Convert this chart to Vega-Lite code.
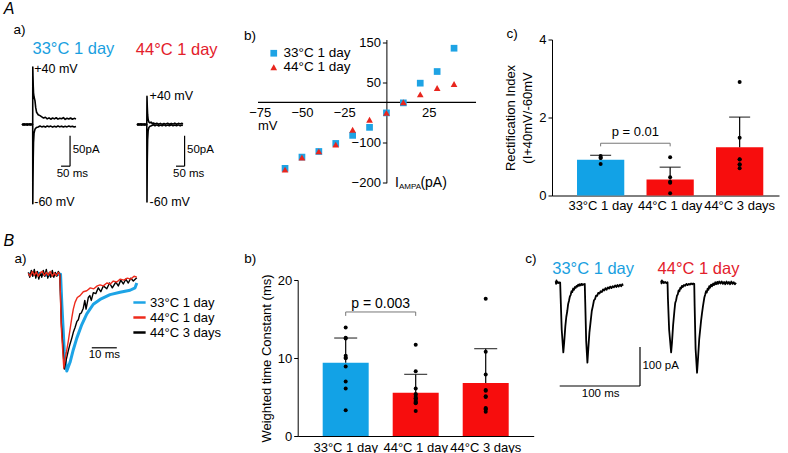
{
 "$schema": "https://vega.github.io/schema/vega-lite/v6.json",
 "padding": {"left": 3, "top": 0.5, "right": 5, "bottom": 5},
 "config": {
  "font": "Liberation Sans",
  "view": {"stroke": null},
  "axis": {"grid": false, "domainColor": "black", "tickColor": "black", "labelColor": "black", "titleColor": "black", "titleFontWeight": "normal", "labelFlush": false},
  "legend": {"labelColor": "black"},
  "line": {"strokeJoin": "round"}
 },
 "datasets": {
  "decay": [
   {"series":"33°C 1 day","t":0,"v":0},{"series":"33°C 1 day","t":4,"v":0.01},{"series":"33°C 1 day","t":8,"v":-0.01},{"series":"33°C 1 day","t":12.9,"v":0},{"series":"33°C 1 day","t":13.4,"v":-0.3},{"series":"33°C 1 day","t":14.4,"v":-0.8},{"series":"33°C 1 day","t":15.4,"v":-1.0},{"series":"33°C 1 day","t":16.7,"v":-0.91},{"series":"33°C 1 day","t":18,"v":-0.78},{"series":"33°C 1 day","t":19.4,"v":-0.66},{"series":"33°C 1 day","t":21.4,"v":-0.52},{"series":"33°C 1 day","t":23.4,"v":-0.41},{"series":"33°C 1 day","t":26,"v":-0.31},{"series":"33°C 1 day","t":28.7,"v":-0.26},{"series":"33°C 1 day","t":32.7,"v":-0.21},{"series":"33°C 1 day","t":36.7,"v":-0.185},{"series":"33°C 1 day","t":40.7,"v":-0.165},{"series":"33°C 1 day","t":42.7,"v":-0.14},{"series":"33°C 1 day","t":43.4,"v":-0.09},
   {"series":"44°C 3 days","t":0,"v":0.02},{"series":"44°C 3 days","t":0.6,"v":-0.03},{"series":"44°C 3 days","t":1.2,"v":0.04},{"series":"44°C 3 days","t":1.8,"v":-0.02},{"series":"44°C 3 days","t":2.4,"v":0.05},{"series":"44°C 3 days","t":3,"v":-0.04},{"series":"44°C 3 days","t":3.6,"v":0.03},{"series":"44°C 3 days","t":4.2,"v":-0.05},{"series":"44°C 3 days","t":4.8,"v":0.02},{"series":"44°C 3 days","t":5.4,"v":-0.03},{"series":"44°C 3 days","t":6,"v":0.04},{"series":"44°C 3 days","t":6.6,"v":-0.02},{"series":"44°C 3 days","t":7.2,"v":0.05},{"series":"44°C 3 days","t":7.8,"v":-0.04},{"series":"44°C 3 days","t":8.4,"v":0.02},{"series":"44°C 3 days","t":9,"v":-0.03},{"series":"44°C 3 days","t":9.6,"v":0.04},{"series":"44°C 3 days","t":10.2,"v":-0.03},{"series":"44°C 3 days","t":10.8,"v":0.02},{"series":"44°C 3 days","t":11.4,"v":-0.02},{"series":"44°C 3 days","t":12,"v":0.03},{"series":"44°C 3 days","t":12.6,"v":0},{"series":"44°C 3 days","t":13.2,"v":-0.5},{"series":"44°C 3 days","t":14.4,"v":-0.98},{"series":"44°C 3 days","t":15.2,"v":-0.88},{"series":"44°C 3 days","t":16,"v":-0.79},{"series":"44°C 3 days","t":16.7,"v":-0.72},{"series":"44°C 3 days","t":17.4,"v":-0.66},{"series":"44°C 3 days","t":18,"v":-0.6},{"series":"44°C 3 days","t":18.7,"v":-0.55},{"series":"44°C 3 days","t":19.4,"v":-0.49},{"series":"44°C 3 days","t":20,"v":-0.47},{"series":"44°C 3 days","t":20.6,"v":-0.41},{"series":"44°C 3 days","t":21.2,"v":-0.4},{"series":"44°C 3 days","t":22,"v":-0.35},{"series":"44°C 3 days","t":22.6,"v":-0.27},{"series":"44°C 3 days","t":23.1,"v":-0.36},{"series":"44°C 3 days","t":24,"v":-0.24},{"series":"44°C 3 days","t":24.6,"v":-0.22},{"series":"44°C 3 days","t":25.2,"v":-0.27},{"series":"44°C 3 days","t":26,"v":-0.19},{"series":"44°C 3 days","t":27,"v":-0.2},{"series":"44°C 3 days","t":28,"v":-0.14},{"series":"44°C 3 days","t":29,"v":-0.18},{"series":"44°C 3 days","t":30,"v":-0.12},{"series":"44°C 3 days","t":31.4,"v":-0.15},{"series":"44°C 3 days","t":32.5,"v":-0.09},{"series":"44°C 3 days","t":33.6,"v":-0.14},{"series":"44°C 3 days","t":35,"v":-0.08},{"series":"44°C 3 days","t":36,"v":-0.12},{"series":"44°C 3 days","t":37,"v":-0.06},{"series":"44°C 3 days","t":38,"v":-0.1},{"series":"44°C 3 days","t":39,"v":-0.05},{"series":"44°C 3 days","t":40,"v":-0.09},{"series":"44°C 3 days","t":41,"v":-0.04},{"series":"44°C 3 days","t":42,"v":-0.07},{"series":"44°C 3 days","t":43.4,"v":-0.035},
   {"series":"44°C 1 day","t":0,"v":0.01},{"series":"44°C 1 day","t":0.8,"v":-0.02},{"series":"44°C 1 day","t":1.6,"v":0.03},{"series":"44°C 1 day","t":2.4,"v":-0.01},{"series":"44°C 1 day","t":3.2,"v":0.025},{"series":"44°C 1 day","t":4,"v":-0.02},{"series":"44°C 1 day","t":4.8,"v":0.015},{"series":"44°C 1 day","t":5.6,"v":0.03},{"series":"44°C 1 day","t":6.4,"v":-0.015},{"series":"44°C 1 day","t":7.2,"v":0.02},{"series":"44°C 1 day","t":8,"v":-0.01},{"series":"44°C 1 day","t":8.8,"v":0.03},{"series":"44°C 1 day","t":9.6,"v":-0.02},{"series":"44°C 1 day","t":10.4,"v":0.015},{"series":"44°C 1 day","t":11.2,"v":-0.015},{"series":"44°C 1 day","t":12,"v":0.02},{"series":"44°C 1 day","t":12.6,"v":0},{"series":"44°C 1 day","t":13.2,"v":-0.55},{"series":"44°C 1 day","t":14.2,"v":-0.97},{"series":"44°C 1 day","t":15,"v":-0.84},{"series":"44°C 1 day","t":16,"v":-0.69},{"series":"44°C 1 day","t":16.7,"v":-0.57},{"series":"44°C 1 day","t":17.4,"v":-0.45},{"series":"44°C 1 day","t":18,"v":-0.36},{"series":"44°C 1 day","t":18.7,"v":-0.29},{"series":"44°C 1 day","t":19.6,"v":-0.24},{"series":"44°C 1 day","t":20.7,"v":-0.22},{"series":"44°C 1 day","t":22,"v":-0.18},{"series":"44°C 1 day","t":23.4,"v":-0.17},{"series":"44°C 1 day","t":24.8,"v":-0.14},{"series":"44°C 1 day","t":26.2,"v":-0.15},{"series":"44°C 1 day","t":27.6,"v":-0.12},{"series":"44°C 1 day","t":28.7,"v":-0.11},{"series":"44°C 1 day","t":30,"v":-0.12},{"series":"44°C 1 day","t":31.4,"v":-0.09},{"series":"44°C 1 day","t":32.8,"v":-0.1},{"series":"44°C 1 day","t":34,"v":-0.07},{"series":"44°C 1 day","t":35.4,"v":-0.08},{"series":"44°C 1 day","t":36.8,"v":-0.05},{"series":"44°C 1 day","t":38.2,"v":-0.06},{"series":"44°C 1 day","t":39.6,"v":-0.04},{"series":"44°C 1 day","t":41,"v":-0.05},{"series":"44°C 1 day","t":42.3,"v":-0.02},{"series":"44°C 1 day","t":43.4,"v":-0.03}
  ]
 },
 "resolve": {"scale": {"color": "independent", "shape": "independent"}, "legend": {"color": "independent", "shape": "independent"}},
 "spacing": 19.5,
 "vconcat": [
  {
   "bounds": "flush",
   "spacing": 60,
   "resolve": {"scale": {"color": "independent", "shape": "independent"}, "legend": {"color": "independent", "shape": "independent"}},
   "hconcat": [
    {
     "width": 54.7, "height": 167.3,
     "layer": [
      {
       "data": {"values": [
        {"sweep":"+40","t":0,"i":0.5},{"sweep":"+40","t":6,"i":-1},{"sweep":"+40","t":12,"i":1.2},{"sweep":"+40","t":18,"i":-0.6},{"sweep":"+40","t":24,"i":0.9},{"sweep":"+40","t":30,"i":-1.2},{"sweep":"+40","t":36,"i":0.6},{"sweep":"+40","t":42,"i":-0.8},{"sweep":"+40","t":48,"i":1.1},{"sweep":"+40","t":54,"i":-0.5},{"sweep":"+40","t":59.5,"i":0.3},
        {"sweep":"+40","t":60,"i":94},{"sweep":"+40","t":61,"i":80},{"sweep":"+40","t":62.5,"i":63},{"sweep":"+40","t":64,"i":52},{"sweep":"+40","t":67,"i":45},{"sweep":"+40","t":72,"i":39},{"sweep":"+40","t":76,"i":28},{"sweep":"+40","t":81,"i":20},{"sweep":"+40","t":90,"i":16},{"sweep":"+40","t":100,"i":14.5},{"sweep":"+40","t":110,"i":12.5},{"sweep":"+40","t":120,"i":10.5},{"sweep":"+40","t":130,"i":11.8},{"sweep":"+40","t":140,"i":9.2},{"sweep":"+40","t":150,"i":10.8},{"sweep":"+40","t":160,"i":8.6},{"sweep":"+40","t":170,"i":10.6},{"sweep":"+40","t":180,"i":9.1},{"sweep":"+40","t":190,"i":11},{"sweep":"+40","t":200,"i":8.7},{"sweep":"+40","t":210,"i":10.2},{"sweep":"+40","t":220,"i":9.4},{"sweep":"+40","t":230,"i":11.2},{"sweep":"+40","t":240,"i":8.3},{"sweep":"+40","t":250,"i":10.1},{"sweep":"+40","t":260,"i":8.9},{"sweep":"+40","t":270,"i":10.6},{"sweep":"+40","t":280,"i":8.6},{"sweep":"+40","t":290,"i":10},{"sweep":"+40","t":300,"i":8.9},
        {"sweep":"-60","t":0,"i":-0.6},{"sweep":"-60","t":6,"i":1},{"sweep":"-60","t":12,"i":-1.1},{"sweep":"-60","t":18,"i":0.7},{"sweep":"-60","t":24,"i":-0.9},{"sweep":"-60","t":30,"i":1.1},{"sweep":"-60","t":36,"i":-0.5},{"sweep":"-60","t":42,"i":0.9},{"sweep":"-60","t":48,"i":-1},{"sweep":"-60","t":54,"i":0.6},{"sweep":"-60","t":59.5,"i":-0.2},
        {"sweep":"-60","t":60,"i":-130},{"sweep":"-60","t":61,"i":-95},{"sweep":"-60","t":62.5,"i":-55},{"sweep":"-60","t":64,"i":-30},{"sweep":"-60","t":67,"i":-14},{"sweep":"-60","t":72,"i":-8},{"sweep":"-60","t":80,"i":-5},{"sweep":"-60","t":90,"i":-4.2},{"sweep":"-60","t":100,"i":-2.6},{"sweep":"-60","t":110,"i":-4},{"sweep":"-60","t":120,"i":-2.9},{"sweep":"-60","t":130,"i":-4.3},{"sweep":"-60","t":140,"i":-2.5},{"sweep":"-60","t":150,"i":-3.8},{"sweep":"-60","t":160,"i":-2.7},{"sweep":"-60","t":170,"i":-4.4},{"sweep":"-60","t":180,"i":-3},{"sweep":"-60","t":190,"i":-4.1},{"sweep":"-60","t":200,"i":-2.4},{"sweep":"-60","t":210,"i":-3.9},{"sweep":"-60","t":220,"i":-2.8},{"sweep":"-60","t":230,"i":-4.2},{"sweep":"-60","t":240,"i":-3.1},{"sweep":"-60","t":250,"i":-4},{"sweep":"-60","t":260,"i":-2.6},{"sweep":"-60","t":270,"i":-3.8},{"sweep":"-60","t":280,"i":-2.9},{"sweep":"-60","t":290,"i":-4.1},{"sweep":"-60","t":300,"i":-3.2}
       ]},
       "mark": {"type": "line", "color": "black", "strokeWidth": 1.6},
       "encoding": {
        "x": {"field": "t", "type": "quantitative", "scale": {"domain": [0, 303.9], "nice": false, "zero": false},
              "axis": {"orient": "top", "domain": false, "ticks": false, "labels": false, "title": "33°C 1 day", "titleColor": "#1a9fe0", "titleFontSize": 16.5, "titleAngle": 0, "titleAlign": "left", "titleBaseline": "middle", "titleX": 10, "titleY": 9}},
        "y": {"field": "i", "type": "quantitative", "scale": {"domain": [-135, 139.3], "nice": false, "zero": false},
              "axis": {"domain": false, "ticks": false, "labels": false, "title": "a)", "titleFontSize": 13.5, "titleAngle": 0, "titleAlign": "left", "titleBaseline": "middle", "titleX": -9, "titleY": -10}},
        "detail": {"field": "sweep", "type": "nominal"}
       }
      },
      {
       "data": {"values": [{"t":267,"t2":267,"i":-18.5,"i2":-68.4},{"t":217,"t2":267,"i":-68.4,"i2":-68.4}]},
       "mark": {"type": "rule", "color": "black", "strokeWidth": 1.2},
       "encoding": {"x": {"field": "t", "type": "quantitative"}, "x2": {"field": "t2"}, "y": {"field": "i", "type": "quantitative"}, "y2": {"field": "i2"}}
      },
      {
       "data": {"values": [{"t":68,"i":91,"label":"+40 mV"},{"t":68,"i":-127,"label":"-60 mV"}]},
       "mark": {"type": "text", "align": "left", "baseline": "middle", "fontSize": 12.5},
       "encoding": {"x": {"field": "t", "type": "quantitative"}, "y": {"field": "i", "type": "quantitative"}, "text": {"field": "label"}}
      },
      {
       "data": {"values": [{"t":281.7,"i":-42.6,"label":"50pA"},{"t":192.6,"i":-80.8,"label":"50 ms"}]},
       "mark": {"type": "text", "align": "left", "baseline": "middle", "fontSize": 11.5},
       "encoding": {"x": {"field": "t", "type": "quantitative"}, "y": {"field": "i", "type": "quantitative"}, "text": {"field": "label"}}
      }
     ]
    },
    {
     "width": 60.9, "height": 167.3,
     "layer": [
      {
       "data": {"values": [
        {"sweep":"+40","t":0,"i":0.4},{"sweep":"+40","t":5,"i":-1},{"sweep":"+40","t":10,"i":1.1},{"sweep":"+40","t":15,"i":-0.7},{"sweep":"+40","t":20,"i":0.9},{"sweep":"+40","t":25,"i":-1.1},{"sweep":"+40","t":30,"i":0.8},{"sweep":"+40","t":35,"i":-0.6},{"sweep":"+40","t":40,"i":1},{"sweep":"+40","t":45,"i":-0.9},{"sweep":"+40","t":50,"i":0.7},{"sweep":"+40","t":54.5,"i":0.1},
        {"sweep":"+40","t":55.5,"i":46},{"sweep":"+40","t":57,"i":30},{"sweep":"+40","t":59,"i":16},{"sweep":"+40","t":62,"i":8},{"sweep":"+40","t":66,"i":4},{"sweep":"+40","t":72,"i":2.5},{"sweep":"+40","t":78,"i":4},{"sweep":"+40","t":84,"i":1.5},{"sweep":"+40","t":92,"i":2.4},{"sweep":"+40","t":100,"i":0.6},{"sweep":"+40","t":110,"i":1.9},{"sweep":"+40","t":120,"i":0.4},{"sweep":"+40","t":130,"i":1.8},{"sweep":"+40","t":140,"i":0.2},{"sweep":"+40","t":150,"i":1.6},{"sweep":"+40","t":160,"i":0.5},{"sweep":"+40","t":170,"i":2},{"sweep":"+40","t":180,"i":0.3},{"sweep":"+40","t":190,"i":1.7},{"sweep":"+40","t":200,"i":0.6},{"sweep":"+40","t":210,"i":2.1},{"sweep":"+40","t":220,"i":0.4},{"sweep":"+40","t":230,"i":1.8},{"sweep":"+40","t":240,"i":0.7},{"sweep":"+40","t":250,"i":1.9},{"sweep":"+40","t":255,"i":0.8},
        {"sweep":"-60","t":0,"i":-0.5},{"sweep":"-60","t":5,"i":0.9},{"sweep":"-60","t":10,"i":-1},{"sweep":"-60","t":15,"i":0.8},{"sweep":"-60","t":20,"i":-0.8},{"sweep":"-60","t":25,"i":1},{"sweep":"-60","t":30,"i":-0.7},{"sweep":"-60","t":35,"i":0.7},{"sweep":"-60","t":40,"i":-1},{"sweep":"-60","t":45,"i":0.8},{"sweep":"-60","t":50,"i":-0.6},{"sweep":"-60","t":54.5,"i":-0.1},
        {"sweep":"-60","t":55.5,"i":-127},{"sweep":"-60","t":57,"i":-60},{"sweep":"-60","t":59,"i":-25},{"sweep":"-60","t":62,"i":-10},{"sweep":"-60","t":66,"i":-5},{"sweep":"-60","t":72,"i":-3},{"sweep":"-60","t":80,"i":-2},{"sweep":"-60","t":90,"i":-0.5},{"sweep":"-60","t":100,"i":-2.2},{"sweep":"-60","t":110,"i":-0.7},{"sweep":"-60","t":120,"i":-2.4},{"sweep":"-60","t":130,"i":-0.8},{"sweep":"-60","t":140,"i":-2.1},{"sweep":"-60","t":150,"i":-0.6},{"sweep":"-60","t":160,"i":-2.3},{"sweep":"-60","t":170,"i":-0.9},{"sweep":"-60","t":180,"i":-2},{"sweep":"-60","t":190,"i":-0.6},{"sweep":"-60","t":200,"i":-2.2},{"sweep":"-60","t":210,"i":-0.8},{"sweep":"-60","t":220,"i":-2.1},{"sweep":"-60","t":230,"i":-0.7},{"sweep":"-60","t":240,"i":-2.3},{"sweep":"-60","t":250,"i":-1},{"sweep":"-60","t":255,"i":-1.8}
       ]},
       "mark": {"type": "line", "color": "black", "strokeWidth": 1.6},
       "encoding": {
        "x": {"field": "t", "type": "quantitative", "scale": {"domain": [0, 338.3], "nice": false, "zero": false},
              "axis": {"orient": "top", "domain": false, "ticks": false, "labels": false, "title": "44°C 1 day", "titleColor": "#e3202b", "titleFontSize": 16.5, "titleAngle": 0, "titleAlign": "left", "titleBaseline": "middle", "titleX": -1.7, "titleY": 10}},
        "y": {"field": "i", "type": "quantitative", "scale": {"domain": [-135, 139.3], "nice": false, "zero": false},
              "axis": {"domain": false, "ticks": false, "labels": false, "title": "A", "titleFontSize": 16, "titleFontStyle": "italic", "titleAngle": 0, "titleAlign": "left", "titleBaseline": "middle", "titleX": -133.7, "titleY": -31}},
        "detail": {"field": "sweep", "type": "nominal"}
       }
      },
      {
       "data": {"values": [{"t":264.4,"t2":264.4,"i":-18.5,"i2":-68.4},{"t":216.7,"t2":264.4,"i":-68.4,"i2":-68.4}]},
       "mark": {"type": "rule", "color": "black", "strokeWidth": 1.2},
       "encoding": {"x": {"field": "t", "type": "quantitative"}, "x2": {"field": "t2"}, "y": {"field": "i", "type": "quantitative"}, "y2": {"field": "i2"}}
      },
      {
       "data": {"values": [{"t":70,"i":45.9,"label":"+40 mV"},{"t":70,"i":-127,"label":"-60 mV"}]},
       "mark": {"type": "text", "align": "left", "baseline": "middle", "fontSize": 12.5},
       "encoding": {"x": {"field": "t", "type": "quantitative"}, "y": {"field": "i", "type": "quantitative"}, "text": {"field": "label"}}
      },
      {
       "data": {"values": [{"t":277.8,"i":-42.6,"label":"50pA"},{"t":200,"i":-80.8,"label":"50 ms"}]},
       "mark": {"type": "text", "align": "left", "baseline": "middle", "fontSize": 11.5},
       "encoding": {"x": {"field": "t", "type": "quantitative"}, "y": {"field": "i", "type": "quantitative"}, "text": {"field": "label"}}
      }
     ]
    },
    {
     "width": 233.4, "height": 143.3,
     "layer": [
      {
       "data": {"values": [{}]},
       "mark": {"type": "rule", "color": "black", "strokeWidth": 1.2},
       "encoding": {"x": {"datum": -76}, "x2": {"datum": 53}, "y": {"datum": 0}}
      },
      {
       "data": {"values": [
        {"grp":"33°C 1 day","mv":-60,"pa":-164},{"grp":"33°C 1 day","mv":-50,"pa":-136},{"grp":"33°C 1 day","mv":-40,"pa":-122},{"grp":"33°C 1 day","mv":-30,"pa":-102},{"grp":"33°C 1 day","mv":-20,"pa":-82},{"grp":"33°C 1 day","mv":-10,"pa":-62},{"grp":"33°C 1 day","mv":0,"pa":-26},{"grp":"33°C 1 day","mv":10,"pa":-1},{"grp":"33°C 1 day","mv":20,"pa":48},{"grp":"33°C 1 day","mv":30,"pa":77},{"grp":"33°C 1 day","mv":40,"pa":135},
        {"grp":"44°C 1 day","mv":-60,"pa":-167},{"grp":"44°C 1 day","mv":-50,"pa":-137},{"grp":"44°C 1 day","mv":-40,"pa":-122},{"grp":"44°C 1 day","mv":-30,"pa":-105},{"grp":"44°C 1 day","mv":-20,"pa":-68},{"grp":"44°C 1 day","mv":-10,"pa":-43},{"grp":"44°C 1 day","mv":0,"pa":-26},{"grp":"44°C 1 day","mv":10,"pa":0.5},{"grp":"44°C 1 day","mv":20,"pa":20},{"grp":"44°C 1 day","mv":30,"pa":36},{"grp":"44°C 1 day","mv":40,"pa":46}
       ]},
       "mark": {"type": "point", "filled": true, "size": 45, "opacity": 1},
       "encoding": {
        "x": {"field": "mv", "type": "quantitative", "scale": {"domain": [-76, 62.1], "nice": false, "zero": false},
              "axis": {"orient": "bottom", "offset": -80.4, "domain": false, "ticks": false, "tickSize": 0, "values": [-75, -50, -25, 25], "labelFontSize": 13, "labelPadding": 4, "labelOverlap": false, "title": "mV", "titleFontSize": 13, "titleAngle": 0, "titleAlign": "left", "titleBaseline": "middle", "titleX": -0.6, "titleY": 23}},
        "y": {"field": "pa", "type": "quantitative", "scale": {"domain": [-200, 156.7], "nice": false, "zero": false},
              "axis": {"offset": -128.4, "values": [-200, -150, -100, -50, 50, 100, 150], "tickSize": 4, "labelPadding": 2, "labelFontSize": 13, "title": "b)", "titleFontSize": 13.5, "titleAngle": 0, "titleAlign": "left", "titleBaseline": "middle", "titleX": -143, "titleY": -4}},
        "color": {"field": "grp", "type": "nominal", "scale": {"domain": ["33°C 1 day", "44°C 1 day"], "range": ["#1ea3e4", "#e8261e"]},
                  "legend": {"orient": "none", "legendX": 9, "legendY": 7, "title": null, "labelFontSize": 13.5, "symbolSize": 45, "rowPadding": -4, "padding": 0, "labelOffset": 3}},
        "shape": {"field": "grp", "type": "nominal", "scale": {"domain": ["33°C 1 day", "44°C 1 day"], "range": ["square", "triangle-up"]}}
       }
      },
      {
       "data": {"values": [{}]},
       "mark": {"type": "text", "align": "left", "baseline": "middle", "fontSize": 14},
       "encoding": {"x": {"datum": 5}, "y": {"datum": -200}, "text": {"value": "I"}}
      },
      {
       "data": {"values": [{}]},
       "mark": {"type": "text", "align": "left", "baseline": "middle", "fontSize": 8, "dx": 4, "dy": 4},
       "encoding": {"x": {"datum": 5}, "y": {"datum": -200}, "text": {"value": "AMPA"}}
      },
      {
       "data": {"values": [{}]},
       "mark": {"type": "text", "align": "left", "baseline": "middle", "fontSize": 14, "dx": 25.5},
       "encoding": {"x": {"datum": 5}, "y": {"datum": -200}, "text": {"value": "(pA)"}}
      }
     ]
    },
    {
     "width": 227, "height": 156,
     "layer": [
      {
       "data": {"values": [
        {"group":"33°C 1 day","mean":0.915,"upper":1.03},
        {"group":"44°C 1 day","mean":0.41,"upper":0.726},
        {"group":"44°C 3 days","mean":1.24,"upper":2.01}
       ]},
       "mark": {"type": "bar"},
       "encoding": {
        "x": {"field": "group", "type": "nominal", "sort": null, "scale": {"type": "band", "paddingInner": 0.32, "paddingOuter": 0.293, "align": 0.614},
              "axis": {"labelAngle": 0, "labelFontSize": 13, "ticks": false, "labelPadding": 4, "labelOverlap": false, "labelBound": false, "title": "c)", "titleFontSize": 13.5, "titleAngle": 0, "titleAlign": "left", "titleBaseline": "middle", "titleX": -46, "titleY": -162}},
        "y": {"field": "mean", "type": "quantitative", "scale": {"domain": [0, 4], "nice": false},
              "axis": {"values": [0, 1, 2, 3, 4], "tickSize": 4, "labelPadding": 2, "labelFontSize": 13, "title": ["Rectification Index", "(I+40mV/-60mV"], "titleFontSize": 13, "titleLineHeight": 17, "titlePadding": 4}},
        "color": {"field": "group", "type": "nominal", "scale": {"domain": ["33°C 1 day", "44°C 1 day", "44°C 3 days"], "range": ["#12a2e6", "#f70d0d", "#f70d0d"]}, "legend": null}
       }
      },
      {
       "data": {"values": [
        {"group":"33°C 1 day","mean":0.915,"upper":1.03},
        {"group":"44°C 1 day","mean":0.41,"upper":0.726},
        {"group":"44°C 3 days","mean":1.24,"upper":2.01}
       ]},
       "mark": {"type": "rule", "color": "black", "strokeWidth": 1.2},
       "encoding": {"x": {"field": "group", "type": "nominal", "sort": null}, "y": {"field": "mean", "type": "quantitative"}, "y2": {"field": "upper"}}
      },
      {
       "data": {"values": [
        {"group":"33°C 1 day","mean":0.915,"upper":1.03},
        {"group":"44°C 1 day","mean":0.41,"upper":0.726},
        {"group":"44°C 3 days","mean":1.24,"upper":2.01}
       ]},
       "mark": {"type": "tick", "color": "black", "thickness": 1.3, "size": 21},
       "encoding": {"x": {"field": "group", "type": "nominal", "sort": null}, "y": {"field": "upper", "type": "quantitative"}}
      },
      {
       "data": {"values": [
        {"group":"33°C 1 day","ri":1.01},{"group":"33°C 1 day","ri":0.96},{"group":"33°C 1 day","ri":0.81},{"group":"33°C 1 day","ri":0.97},
        {"group":"44°C 1 day","ri":0.98},{"group":"44°C 1 day","ri":0.47},{"group":"44°C 1 day","ri":0.33},{"group":"44°C 1 day","ri":0.35},{"group":"44°C 1 day","ri":0.06},
        {"group":"44°C 3 days","ri":2.91},{"group":"44°C 3 days","ri":1.48},{"group":"44°C 3 days","ri":0.93},{"group":"44°C 3 days","ri":0.92},{"group":"44°C 3 days","ri":0.8},{"group":"44°C 3 days","ri":0.79},{"group":"44°C 3 days","ri":0.7}
       ]},
       "mark": {"type": "circle", "color": "black", "size": 16, "opacity": 1},
       "encoding": {"x": {"field": "group", "type": "nominal", "sort": null}, "y": {"field": "ri", "type": "quantitative"}}
      },
      {
       "data": {"values": [
        {"group":"33°C 1 day","yy":1.26,"o":0},{"group":"33°C 1 day","yy":1.34,"o":1},{"group":"44°C 1 day","yy":1.34,"o":2},{"group":"44°C 1 day","yy":1.26,"o":3}
       ]},
       "mark": {"type": "line", "color": "#777777", "strokeWidth": 1},
       "encoding": {"x": {"field": "group", "type": "nominal", "sort": null}, "y": {"field": "yy", "type": "quantitative"}, "order": {"field": "o", "type": "quantitative"}}
      },
      {
       "data": {"values": [{"group":"44°C 1 day","yy":1.62,"label":"p = 0.01"}]},
       "mark": {"type": "text", "fontSize": 13, "baseline": "middle", "dx": -34.75},
       "encoding": {"x": {"field": "group", "type": "nominal", "sort": null}, "y": {"field": "yy", "type": "quantitative"}, "text": {"field": "label"}}
      }
     ]
    }
   ]
  },
  {
   "bounds": "flush",
   "spacing": 20.7,
   "resolve": {"scale": {"color": "independent", "shape": "independent"}, "legend": {"color": "independent", "shape": "independent"}},
   "hconcat": [
    {
     "width": 254.3, "height": 91,
     "layer": [
      {
       "data": {"name": "decay"},
       "transform": [{"filter": "datum.series === '33°C 1 day'"}],
       "mark": {"type": "line", "strokeWidth": 3},
       "encoding": {
        "x": {"field": "t", "type": "quantitative", "scale": {"domain": [-2.52, 99.2], "nice": false, "zero": false},
              "axis": {"orient": "top", "domain": false, "ticks": false, "labels": false, "title": "B", "titleFontSize": 16, "titleFontStyle": "italic", "titleAngle": 0, "titleAlign": "left", "titleBaseline": "middle", "titleX": -19, "titleY": -40}},
        "y": {"field": "v", "type": "quantitative", "scale": {"domain": [-1.0, -0.0589], "nice": false, "zero": false},
              "axis": {"domain": false, "ticks": false, "labels": false, "title": "a)", "titleFontSize": 13.5, "titleAngle": 0, "titleAlign": "left", "titleBaseline": "middle", "titleX": -8, "titleY": -22}},
        "color": {"field": "series", "type": "nominal", "scale": {"domain": ["33°C 1 day", "44°C 1 day", "44°C 3 days"], "range": ["#1da4e6", "#ee2b1c", "black"]},
                  "legend": {"orient": "none", "legendX": 110, "legendY": 15, "title": null, "symbolType": "stroke", "symbolStrokeWidth": 2.5, "symbolSize": 150, "labelFontSize": 13, "rowPadding": -2.5, "labelOffset": 3, "padding": 0}}
       }
      },
      {
       "data": {"name": "decay"},
       "transform": [{"filter": "datum.series !== '33°C 1 day'"}],
       "mark": {"type": "line", "strokeWidth": 1.4},
       "encoding": {
        "x": {"field": "t", "type": "quantitative"},
        "y": {"field": "v", "type": "quantitative"},
        "color": {"field": "series", "type": "nominal"}
       }
      },
      {
       "data": {"values": [{"t":25.4,"t2":35.4,"v":-0.76}]},
       "mark": {"type": "rule", "color": "black", "strokeWidth": 1.2},
       "encoding": {"x": {"field": "t", "type": "quantitative"}, "x2": {"field": "t2"}, "y": {"field": "v", "type": "quantitative"}}
      },
      {
       "data": {"values": [{"t":30.4,"v":-0.835,"label":"10 ms"}]},
       "mark": {"type": "text", "baseline": "middle", "fontSize": 11.5},
       "encoding": {"x": {"field": "t", "type": "quantitative"}, "y": {"field": "v", "type": "quantitative"}, "text": {"field": "label"}}
      }
     ]
    },
    {
     "width": 236, "height": 156,
     "layer": [
      {
       "data": {"values": [
        {"group":"33°C 1 day","mean":9.4,"upper":12.56},
        {"group":"44°C 1 day","mean":5.56,"upper":7.9},
        {"group":"44°C 3 days","mean":6.8,"upper":11.2}
       ]},
       "mark": {"type": "bar"},
       "encoding": {
        "x": {"field": "group", "type": "nominal", "sort": null, "scale": {"type": "band", "paddingInner": 0.343, "paddingOuter": 0.357},
              "axis": {"labelAngle": 0, "labelFontSize": 13, "ticks": false, "labelPadding": 5, "labelOverlap": false, "labelBound": false, "title": "b)", "titleFontSize": 13.5, "titleAngle": 0, "titleAlign": "left", "titleBaseline": "middle", "titleX": -54, "titleY": -178}},
        "y": {"field": "mean", "type": "quantitative", "scale": {"domain": [0, 20], "nice": false},
              "axis": {"values": [0, 5, 10, 15, 20], "tickSize": 4, "labelPadding": 2, "labelFontSize": 13, "title": "Weighted time Constant (ms)", "titleFontSize": 13, "titlePadding": 4}},
        "color": {"field": "group", "type": "nominal", "scale": {"domain": ["33°C 1 day", "44°C 1 day", "44°C 3 days"], "range": ["#12a2e6", "#f70d0d", "#f70d0d"]}, "legend": null}
       }
      },
      {
       "data": {"values": [
        {"group":"33°C 1 day","mean":9.4,"upper":12.56},
        {"group":"44°C 1 day","mean":5.56,"upper":7.9},
        {"group":"44°C 3 days","mean":6.8,"upper":11.2}
       ]},
       "mark": {"type": "rule", "color": "black", "strokeWidth": 1.2},
       "encoding": {"x": {"field": "group", "type": "nominal", "sort": null}, "y": {"field": "mean", "type": "quantitative"}, "y2": {"field": "upper"}}
      },
      {
       "data": {"values": [
        {"group":"33°C 1 day","mean":9.4,"upper":12.56},
        {"group":"44°C 1 day","mean":5.56,"upper":7.9},
        {"group":"44°C 3 days","mean":6.8,"upper":11.2}
       ]},
       "mark": {"type": "tick", "color": "black", "thickness": 1.3, "size": 23},
       "encoding": {"x": {"field": "group", "type": "nominal", "sort": null}, "y": {"field": "upper", "type": "quantitative"}}
      },
      {
       "data": {"values": [
        {"group":"33°C 1 day","tau":13.9},{"group":"33°C 1 day","tau":12.5},{"group":"33°C 1 day","tau":12.6},{"group":"33°C 1 day","tau":10.0},{"group":"33°C 1 day","tau":10.3},{"group":"33°C 1 day","tau":10.0},{"group":"33°C 1 day","tau":8.9},{"group":"33°C 1 day","tau":7.0},{"group":"33°C 1 day","tau":6.1},{"group":"33°C 1 day","tau":3.3},
        {"group":"44°C 1 day","tau":11.7},{"group":"44°C 1 day","tau":8.3},{"group":"44°C 1 day","tau":6.1},{"group":"44°C 1 day","tau":5.4},{"group":"44°C 1 day","tau":5.3},{"group":"44°C 1 day","tau":5.0},{"group":"44°C 1 day","tau":4.8},{"group":"44°C 1 day","tau":4.8},{"group":"44°C 1 day","tau":4.6},{"group":"44°C 1 day","tau":4.4},{"group":"44°C 1 day","tau":4.3},{"group":"44°C 1 day","tau":4.2},{"group":"44°C 1 day","tau":3.2},
        {"group":"44°C 3 days","tau":17.6},{"group":"44°C 3 days","tau":10.8},{"group":"44°C 3 days","tau":7.9},{"group":"44°C 3 days","tau":5.9},{"group":"44°C 3 days","tau":5.8},{"group":"44°C 3 days","tau":5.1},{"group":"44°C 3 days","tau":5.0},{"group":"44°C 3 days","tau":3.6},{"group":"44°C 3 days","tau":3.5},{"group":"44°C 3 days","tau":3.4},{"group":"44°C 3 days","tau":3.1}
       ]},
       "mark": {"type": "circle", "color": "black", "size": 16, "opacity": 1},
       "encoding": {"x": {"field": "group", "type": "nominal", "sort": null}, "y": {"field": "tau", "type": "quantitative"}}
      },
      {
       "data": {"values": [
        {"group":"33°C 1 day","yy":15.4,"o":0},{"group":"33°C 1 day","yy":15.9,"o":1},{"group":"44°C 1 day","yy":15.9,"o":2},{"group":"44°C 1 day","yy":15.4,"o":3}
       ]},
       "mark": {"type": "line", "color": "#777777", "strokeWidth": 1},
       "encoding": {"x": {"field": "group", "type": "nominal", "sort": null}, "y": {"field": "yy", "type": "quantitative"}, "order": {"field": "o", "type": "quantitative"}}
      },
      {
       "data": {"values": [{"group":"44°C 1 day","yy":16.9,"label":"p = 0.003"}]},
       "mark": {"type": "text", "fontSize": 14, "baseline": "middle", "dx": -35},
       "encoding": {"x": {"field": "group", "type": "nominal", "sort": null}, "y": {"field": "yy", "type": "quantitative"}, "text": {"field": "label"}}
      }
     ]
    },
    {
     "width": 85.6, "height": 106,
     "layer": [
      {
       "data": {"values": [
        {"t":0,"i":4},{"t":0.5,"i":-3},{"t":1,"i":6},{"t":1.6,"i":-1},{"t":2.5,"i":2},{"t":3.5,"i":-1},{"t":4.5,"i":1},{"t":5.6,"i":0},{"t":6.2,"i":-40},{"t":7.5,"i":-120},{"t":9.5,"i":-179},{"t":10.5,"i":-155},{"t":12,"i":-112},{"t":13.2,"i":-88},{"t":14.5,"i":-72},{"t":15.5,"i":-55},{"t":16.5,"i":-47},{"t":17.6,"i":-36},{"t":18.7,"i":-31},{"t":19.7,"i":-22},{"t":20.7,"i":-24},{"t":21.8,"i":-15},{"t":22.8,"i":-18},{"t":24,"i":-11},{"t":25,"i":-13},{"t":26,"i":-8},{"t":27,"i":-10},{"t":28,"i":-5},{"t":29,"i":-8},{"t":30,"i":-4},{"t":31,"i":-7},{"t":32,"i":-3},{"t":33,"i":-6},{"t":34,"i":-4},{"t":35,"i":-5},{"t":36.2,"i":-3},{"t":36.8,"i":-50},{"t":38,"i":-150},{"t":39.5,"i":-205},{"t":40.6,"i":-170},{"t":42,"i":-128},{"t":43.6,"i":-98},{"t":45,"i":-72},{"t":46.3,"i":-60},{"t":47.7,"i":-45},{"t":49,"i":-42},{"t":50.3,"i":-33},{"t":51.6,"i":-34},{"t":53,"i":-26},{"t":54.5,"i":-28},{"t":56,"i":-22},{"t":57.5,"i":-24},{"t":59,"i":-17},{"t":60.5,"i":-20},{"t":62,"i":-14},{"t":63.5,"i":-18},{"t":65,"i":-12},{"t":66.5,"i":-15},{"t":68,"i":-10},{"t":69.5,"i":-14},{"t":71,"i":-9},{"t":72.5,"i":-12},{"t":74,"i":-7},{"t":75.5,"i":-11},{"t":77,"i":-6},{"t":78.5,"i":-10},{"t":80,"i":-5},{"t":81.5,"i":-9},{"t":83,"i":-4},{"t":83.4,"i":-8}
       ]},
       "mark": {"type": "line", "color": "black", "strokeWidth": 1.8},
       "encoding": {
        "x": {"field": "t", "type": "quantitative", "scale": {"domain": [-1.6, 105], "nice": false, "zero": false},
              "axis": {"orient": "top", "domain": false, "ticks": false, "labels": false, "title": "33°C 1 day", "titleColor": "#1a9fe0", "titleFontSize": 16.5, "titleAngle": 0, "titleAlign": "left", "titleBaseline": "middle", "titleX": -2.7, "titleY": -12}},
        "y": {"field": "i", "type": "quantitative", "scale": {"domain": [-265, 6.9], "nice": false, "zero": false},
              "axis": {"domain": false, "ticks": false, "labels": false, "title": "c)", "titleFontSize": 13.5, "titleAngle": 0, "titleAlign": "left", "titleBaseline": "middle", "titleX": -29.7, "titleY": -22}}
       }
      },
      {
       "data": {"values": [{"t":105,"t2":105,"i":-165,"i2":-265},{"t":5,"t2":105,"i":-265,"i2":-265}]},
       "mark": {"type": "rule", "color": "black", "strokeWidth": 1.2},
       "encoding": {"x": {"field": "t", "type": "quantitative"}, "x2": {"field": "t2"}, "y": {"field": "i", "type": "quantitative"}, "y2": {"field": "i2"}}
      },
      {
       "data": {"values": [{"t":108,"i":-213.6,"label":"100 pA"}]},
       "mark": {"type": "text", "align": "left", "baseline": "middle", "fontSize": 11.5},
       "encoding": {"x": {"field": "t", "type": "quantitative"}, "y": {"field": "i", "type": "quantitative"}, "text": {"field": "label"}}
      },
      {
       "data": {"values": [{"t":56,"i":-286,"label":"100 ms"}]},
       "mark": {"type": "text", "align": "center", "baseline": "middle", "fontSize": 11.5},
       "encoding": {"x": {"field": "t", "type": "quantitative"}, "y": {"field": "i", "type": "quantitative"}, "text": {"field": "label"}}
      }
     ]
    },
    {
     "width": 75.5, "height": 106,
     "data": {"values": [
      {"t":0,"i":5},{"t":0.5,"i":-2},{"t":1,"i":6},{"t":1.6,"i":0},{"t":2.4,"i":3},{"t":3.5,"i":-1},{"t":5,"i":2},{"t":6.5,"i":-1},{"t":8,"i":1},{"t":8.5,"i":-40},{"t":10,"i":-120},{"t":12.5,"i":-179},{"t":13.5,"i":-155},{"t":15,"i":-108},{"t":16.6,"i":-72},{"t":17.6,"i":-52},{"t":18.7,"i":-45},{"t":19.8,"i":-33},{"t":20.8,"i":-30},{"t":21.8,"i":-20},{"t":22.8,"i":-22},{"t":24,"i":-13},{"t":24.9,"i":-15},{"t":26,"i":-8},{"t":27,"i":-11},{"t":28.5,"i":-6},{"t":30,"i":-8},{"t":31.5,"i":-3},{"t":33,"i":-6},{"t":34.5,"i":-3},{"t":36,"i":-5},{"t":37.4,"i":-2},{"t":38.8,"i":-4},{"t":40,"i":-2},{"t":41.3,"i":-3},{"t":41.8,"i":-60},{"t":43,"i":-170},{"t":44.8,"i":-231},{"t":46,"i":-195},{"t":47.5,"i":-145},{"t":49.8,"i":-98},{"t":51,"i":-78},{"t":52.2,"i":-60},{"t":53.9,"i":-38},{"t":55,"i":-30},{"t":56,"i":-22},{"t":57,"i":-25},{"t":58,"i":-15},{"t":59,"i":-18},{"t":60,"i":-9},{"t":61,"i":-13},{"t":62.3,"i":-5},{"t":63.5,"i":-9},{"t":65,"i":-2},{"t":66,"i":-6},{"t":67.5,"i":1},{"t":68.5,"i":-4},{"t":70,"i":2},{"t":71,"i":-3},{"t":72.5,"i":3},{"t":74,"i":-2},{"t":75.5,"i":3},{"t":77,"i":-3},{"t":78.5,"i":2},{"t":80,"i":-4},{"t":81.5,"i":3},{"t":83,"i":-3},{"t":84.5,"i":2},{"t":86,"i":-4},{"t":87.5,"i":3},{"t":89,"i":-3},{"t":90.5,"i":1},{"t":92,"i":-4},{"t":93.4,"i":0}
     ]},
     "mark": {"type": "line", "color": "black", "strokeWidth": 1.8},
     "encoding": {
      "x": {"field": "t", "type": "quantitative", "scale": {"domain": [0, 94.1], "nice": false, "zero": false},
            "axis": {"orient": "top", "domain": false, "ticks": false, "labels": false, "title": "44°C 1 day", "titleColor": "#e3202b", "titleFontSize": 16.5, "titleAngle": 0, "titleAlign": "left", "titleBaseline": "middle", "titleX": -4, "titleY": -12}},
      "y": {"field": "i", "type": "quantitative", "scale": {"domain": [-265, 6.9], "nice": false, "zero": false}, "axis": null}
     }
    }
   ]
  }
 ]
}
